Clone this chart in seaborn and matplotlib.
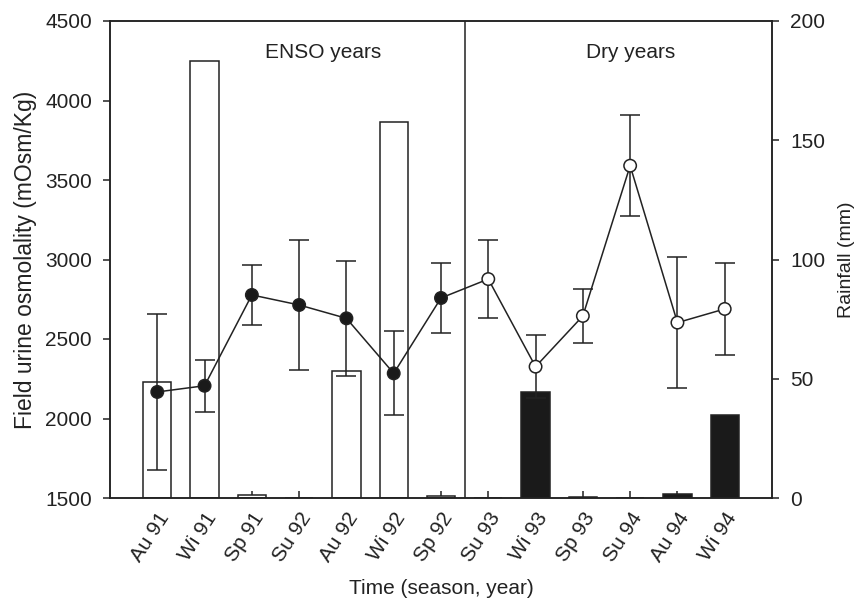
import numpy as np
import pandas as pd
import matplotlib
matplotlib.use('Agg')
import matplotlib.pyplot as plt
import seaborn as sns

# Data
seasons = ['Au 91', 'Wi 91', 'Sp 91', 'Su 92', 'Au 92', 'Wi 92', 'Sp 92',
           'Su 93', 'Wi 93', 'Sp 93', 'Su 94', 'Au 94', 'Wi 94']
period = ['ENSO'] * 7 + ['Dry'] * 6
rainfall = [48.6, 183.2, 1.2, 0.0, 53.4, 157.5, 1.0,
            0.0, 44.6, 0.6, 0.0, 1.5, 34.7]
osmolality = [2167, 2206, 2777, 2714, 2630, 2284, 2758,
              2877, 2326, 2645, 3590, 2603, 2689]
osm_err = [492, 163, 187, 408, 360, 265, 222,
           248, 197, 168, 316, 410, 290]

sns.set_style("ticks")
plt.rcParams['font.family'] = ['Liberation Sans', 'DejaVu Sans']
ink = '#222222'
fs = 15

df = pd.DataFrame({'season': seasons, 'period': period, 'rain': rainfall,
                   'osm': osmolality, 'err': osm_err})
df['pos'] = np.arange(len(df))

fig = plt.figure(figsize=(8.61, 6.01), dpi=100)
fig.subplots_adjust(left=110/861, right=772/861, top=1-21/601, bottom=1-498/601)
ax = fig.add_subplot(111)          # rainfall bars (right axis)
ax2 = ax.twinx()                   # osmolality line (left axis)

sns.barplot(data=df, x='season', y='rain', hue='period', dodge=False,
            palette={'ENSO': 'white', 'Dry': '#1a1a1a'}, edgecolor=ink,
            linewidth=1.1, width=0.6, legend=False, ax=ax)
ax.set_axisbelow(True)
ax.set_xlim(-1, len(seasons))
ax.set_ylim(0, 200)
ax.set_yticks([0, 50, 100, 150, 200])
ax.yaxis.tick_right()
ax.yaxis.set_label_position('right')
ax.set_ylabel('Rainfall (mm)', fontsize=14, color=ink, labelpad=9)
ax.set_xlabel('Time (season, year)', fontsize=fs, color=ink, labelpad=10)
ax.tick_params(axis='x', direction='in', length=5, width=1.1, color=ink,
               labelsize=fs, labelcolor=ink, pad=8)
ax.tick_params(axis='y', direction='out', length=5, width=1.1, color=ink,
               labelsize=fs, labelcolor=ink, pad=8)
for lab in ax.get_xticklabels():
    lab.set_rotation(57)
    lab.set_ha('right')
    lab.set_rotation_mode('anchor')

# osmolality line with error bars
ax2.errorbar(df['pos'], df['osm'], yerr=df['err'], fmt='none', ecolor=ink,
             elinewidth=1.1, capsize=7.5, capthick=1.1, zorder=3)
sns.lineplot(data=df, x='pos', y='osm', color=ink, linewidth=1.1, ax=ax2,
             zorder=4, estimator=None, sort=False)
face = df['period'].map({'ENSO': '#1a1a1a', 'Dry': 'white'})
ax2.scatter(df['pos'], df['osm'], s=80, facecolors=face, edgecolors=ink,
            linewidths=1.1, zorder=5)
ax2.set_ylim(1500, 4500)
ax2.set_yticks(np.arange(1500, 4501, 500))
ax2.yaxis.tick_left()
ax2.yaxis.set_label_position('left')
ax2.set_ylabel('Field urine osmolality (mOsm/Kg)', fontsize=16.5, color=ink,
               labelpad=6)
ax2.set_xlabel('')
ax2.tick_params(axis='y', direction='out', length=5, width=1.1, color=ink,
                labelsize=fs, labelcolor=ink, pad=8)

# period divider and labels
ax2.axvline(6.5, color=ink, linewidth=1.1, zorder=2)
ax2.text(3.5, 4267, 'ENSO years', ha='center', va='baseline', fontsize=fs, color=ink)
ax2.text(10.0, 4267, 'Dry years', ha='center', va='baseline', fontsize=fs, color=ink)

for a in (ax, ax2):
    for sp in a.spines.values():
        sp.set_visible(True)
        sp.set_color(ink)
        sp.set_linewidth(1.1)

fig.savefig('out.png', dpi=100)
